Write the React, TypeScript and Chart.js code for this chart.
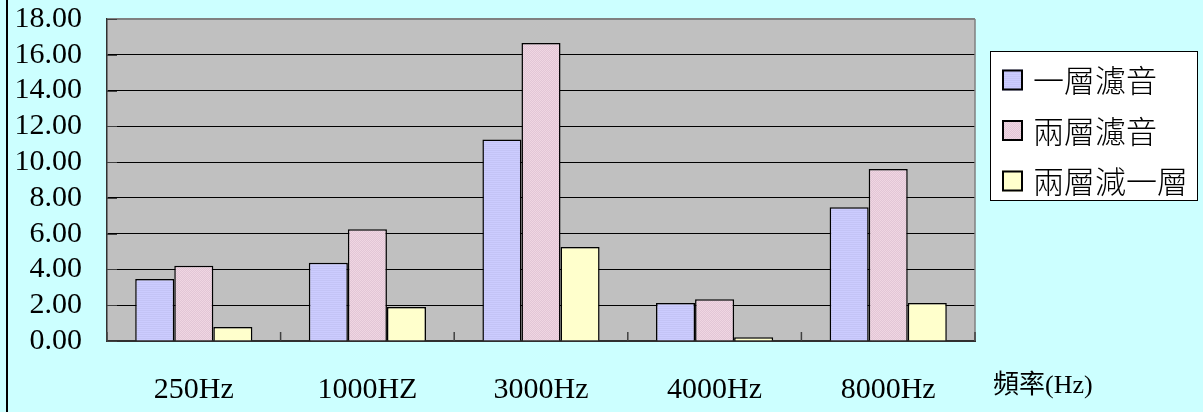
import React, { useEffect, useRef } from 'react';
import { Chart, registerables } from 'chart.js';

Chart.register(...registerables);

const categories = ['250Hz', '1000HZ', '3000Hz', '4000Hz', '8000Hz'];
const oneLayer = [3.47, 4.38, 11.27, 2.12, 7.47];
const twoLayer = [4.21, 6.24, 16.66, 2.33, 9.61];
const twoMinusOne = [0.78, 1.9, 5.25, 0.21, 2.12];
const seriesNames = ['一層濾音', '兩層濾音', '兩層減一層'];
const yMin = 0;
const yMax = 18;
const yStep = 2;
const axisTitle = '頻率(Hz)';

function makePattern(kind: 'stripe' | 'check', c1: string, c2: string): CanvasPattern | string {
  const pc = document.createElement('canvas');
  pc.width = 4;
  pc.height = 4;
  const p = pc.getContext('2d');
  if (!p) return c1;
  p.fillStyle = c1;
  p.fillRect(0, 0, 4, 4);
  p.fillStyle = c2;
  if (kind === 'stripe') {
    p.fillRect(0, 0, 4, 1);
    p.fillRect(0, 2, 4, 1);
  } else {
    p.fillRect(0, 0, 1, 1);
    p.fillRect(2, 0, 1, 1);
    p.fillRect(1, 1, 1, 1);
    p.fillRect(3, 1, 1, 1);
    p.fillRect(0, 2, 1, 1);
    p.fillRect(2, 2, 1, 1);
    p.fillRect(1, 3, 1, 1);
    p.fillRect(3, 3, 1, 1);
  }
  const pat = p.createPattern(pc, 'repeat');
  return pat || c1;
}

const decorPlugin = {
  id: 'decor',
  beforeDraw(chart: any) {
    const { ctx, chartArea: a } = chart;
    ctx.save();
    ctx.fillStyle = '#C0C0C0';
    ctx.fillRect(a.left, a.top, a.right - a.left, a.bottom - a.top);
    ctx.restore();
  },
  afterDatasetsDraw(chart: any) {
    const { ctx, chartArea: a } = chart;
    const xs = chart.scales.x;
    const ys = chart.scales.y;
    ctx.save();
    ctx.strokeStyle = '#808080';
    ctx.lineWidth = 1.5;
    ctx.beginPath();
    ctx.moveTo(a.right, a.top);
    ctx.lineTo(a.right, a.bottom);
    ctx.stroke();
    ctx.strokeStyle = '#404040';
    ctx.lineWidth = 1.5;
    const n = chart.data.labels.length;
    for (let i = 0; i <= n; i++) {
      const x = i === 0 ? a.left : i === n ? a.right : (xs.getPixelForValue(i - 1) + xs.getPixelForValue(i)) / 2;
      ctx.beginPath();
      ctx.moveTo(x, a.bottom);
      ctx.lineTo(x, a.bottom - 9);
      ctx.stroke();
    }
    ctx.strokeStyle = '#404040';
    ctx.lineWidth = 1;
    ys.ticks.forEach((t: any) => {
      const y = Math.round(ys.getPixelForValue(t.value)) + 0.5;
      ctx.beginPath();
      ctx.moveTo(a.left, y);
      ctx.lineTo(a.left + 10, y);
      ctx.stroke();
    });
    ctx.restore();
  },
  afterDraw(chart: any) {
    const { ctx } = chart;
    ctx.save();
    const bx = 990.5, by = 51.5, bw = 207, bh = 149;
    ctx.fillStyle = '#FFFFFF';
    ctx.fillRect(bx, by, bw, bh);
    ctx.strokeStyle = '#000';
    ctx.lineWidth = 1;
    ctx.strokeRect(bx, by, bw, bh);
    chart.data.datasets.forEach((ds: any, i: number) => {
      const cy = 79.5 + i * 50.5;
      ctx.fillStyle = ds.backgroundColor;
      ctx.fillRect(1002, cy - 10, 21, 21);
      ctx.strokeStyle = '#000';
      ctx.lineWidth = 2;
      ctx.strokeRect(1003, cy - 9, 19, 19);
      ctx.fillStyle = '#000';
      ctx.font = '300 31px "Noto Sans CJK TC"';
      ctx.textBaseline = 'middle';
      ctx.textAlign = 'left';
      ctx.fillText(ds.label, 1033, cy + 1);
    });
    ctx.fillStyle = '#000';
    ctx.font = '26px "Liberation Serif", "Noto Sans CJK TC"';
    ctx.textBaseline = 'middle';
    ctx.textAlign = 'left';
    ctx.fillText(axisTitle, 993, 386);
    ctx.restore();
  },
};

export default function App() {
  const ref = useRef<HTMLCanvasElement | null>(null);

  useEffect(() => {
    if (!ref.current) return;
    const bluePat = makePattern('stripe', '#CCCCFF', '#C4C4F6');
    const pinkPat = makePattern('check', '#E2C6D6', '#F0D6E2');
    const yellow = '#FFFFCC';
    const chart = new Chart(ref.current, {
      type: 'bar',
      data: {
        labels: categories,
        datasets: [
          { label: seriesNames[0], data: oneLayer, backgroundColor: bluePat as any, borderColor: '#000', borderWidth: 1.5 },
          { label: seriesNames[1], data: twoLayer, backgroundColor: pinkPat as any, borderColor: '#000', borderWidth: 1.5 },
          { label: seriesNames[2], data: twoMinusOne, backgroundColor: yellow, borderColor: '#000', borderWidth: 1.5 },
        ],
      },
      options: {
        responsive: false,
        animation: false,
        layout: { padding: { left: 0, top: 19, right: 228, bottom: 0 } },
        plugins: { legend: { display: false }, tooltip: { enabled: false } },
        datasets: { bar: { categoryPercentage: 0.675, barPercentage: 1.0 } },
        scales: {
          x: {
            grid: { display: false, drawTicks: false },
            border: { display: true, color: '#303030', width: 2 },
            ticks: {
              color: '#000',
              padding: 34,
              autoSkip: false,
              font: { family: '"Liberation Serif", "Times New Roman", serif', size: 30, lineHeight: 1 },
              maxRotation: 0,
            },
            afterFit: (s: any) => { s.height = 71; },
          },
          y: {
            min: yMin,
            max: yMax,
            grid: {
              color: (c: any) => (c.tick && c.tick.value === yMax ? '#808080' : '#000'),
              lineWidth: (c: any) => (c.tick && c.tick.value === yMax ? 2 : 1),
              drawTicks: false,
            },
            border: { display: true, color: '#303030', width: 1.5 },
            ticks: {
              stepSize: yStep,
              autoSkip: false,
              color: '#000',
              padding: 25,
              font: { family: '"Liberation Serif", "Times New Roman", serif', size: 30, lineHeight: 1 },
              callback: (v: any) => Number(v).toFixed(2),
            },
            afterFit: (s: any) => { s.width = 107; s.paddingTop = 0; s.paddingBottom = 0; },
          },
        },
      },
      plugins: [decorPlugin],
    });
    return () => chart.destroy();
  }, []);

  return (
    <div style={{ position: 'fixed', left: 0, top: 0, width: 1203, height: 412, background: '#CCFFFF', overflow: 'hidden' }}>
      <div style={{ position: 'absolute', left: 6, top: 0, width: 2, height: 412, background: '#000' }} />
      <canvas ref={ref} width={1203} height={412} style={{ position: 'absolute', left: 0, top: 0, width: 1203, height: 412 }} />
    </div>
  );
}
